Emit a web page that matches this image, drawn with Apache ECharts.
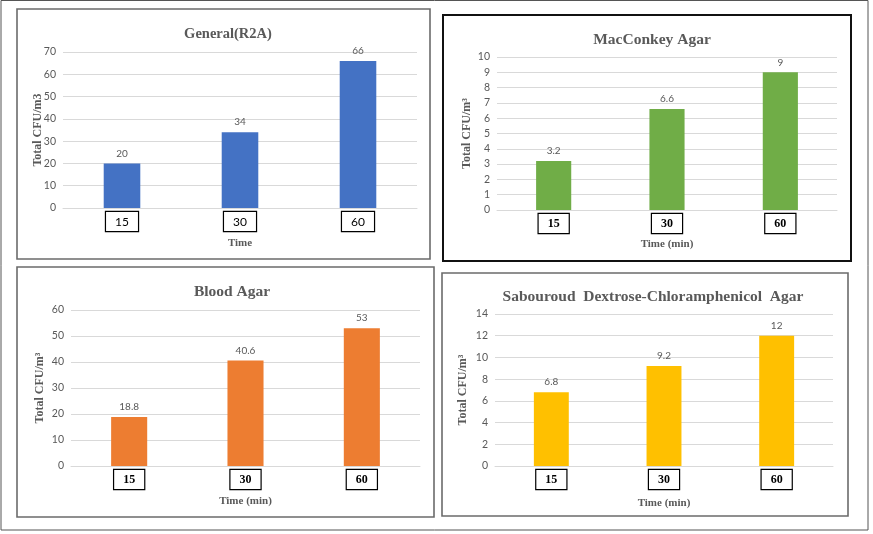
<!DOCTYPE html>
<html>
<head>
<meta charset="utf-8">
<script src="https://cdn.jsdelivr.net/npm/echarts@6/dist/echarts.min.js"></script>
<style>
html,body{margin:0;padding:0;background:#fff;}
#c{width:873px;height:534px;}
</style>
</head>
<body>
<div id="c"></div>
<script>
// ---- data ----
var timeCategories = ['15', '30', '60'];
var generalR2A = [20, 34, 66];
var macConkey = [3.2, 6.6, 9];
var bloodAgar = [18.8, 40.6, 53];
var sabouraud = [6.8, 9.2, 12];

var panelTitles = ['General(R2A)', 'MacConkey Agar', 'Blood Agar', 'Sabouroud  Dextrose-Chloramphenicol  Agar'];
var yAxisNames = ['Total CFU/m3', 'Total CFU/m\u00B3', 'Total CFU/m\u00B3', 'Total CFU/m\u00B3'];
var xAxisNames = ['Time', 'Time (min)', 'Time (min)', 'Time (min)'];
var yMax = [70, 10, 60, 14];
var yInterval = [10, 1, 10, 2];

// ---- layout / style ----
var seriesData = [generalR2A, macConkey, bloodAgar, sabouraud];
var colors = ['#4472C4', '#70AD47', '#ED7D31', '#FFC000'];
var grids = [
  {left: 63, right: 456, top: 52, bottom: 326},
  {left: 497, right: 36, top: 57, bottom: 324},
  {left: 71, right: 453, top: 310, bottom: 68},
  {left: 495, right: 40, top: 314, bottom: 68}
];
var titlePos = [[223, 22], [647, 27], [227, 279], [648, 284]];
var titleSize = [14.5, 15.5, 15.5, 15.5];
var yNameGap = [19, 24, 25, 26];
var xNameGap = [30, 29, 30, 32];
var serif = '"Liberation Serif", "Times New Roman", serif';
var sans = 'Lato, "Open Sans", sans-serif';
var gray = '#595959';

var option = {
  backgroundColor: '#fff',
  animation: false,
  title: panelTitles.map(function (t, i) {
    return {
      text: t, left: titlePos[i][0], top: titlePos[i][1], textAlign: 'center',
      textStyle: {fontFamily: serif, fontWeight: 'bold', fontSize: titleSize[i], color: gray}
    };
  }),
  grid: grids.map(function (g) { return Object.assign({containLabel: false}, g); }),
  xAxis: grids.map(function (g, i) {
    return {
      type: 'category', gridIndex: i, data: timeCategories,
      name: xAxisNames[i], nameLocation: 'middle', nameGap: xNameGap[i], nameMoveOverlap: false,
      nameTextStyle: {fontFamily: serif, fontWeight: 'bold', fontSize: 11, color: gray},
      axisLine: {lineStyle: {color: '#d9d9d9', width: 1}},
      axisTick: {show: false},
      axisLabel: {
        margin: 4, color: '#000',
        fontFamily: i === 0 ? sans : serif,
        fontWeight: i === 0 ? 'normal' : 'bold',
        fontSize: 12,
        borderColor: '#000', borderWidth: 1.2, padding: [4, 9, 3, 9],
        backgroundColor: '#fff'
      }
    };
  }),
  yAxis: grids.map(function (g, i) {
    return {
      type: 'value', gridIndex: i, min: 0, max: yMax[i], interval: yInterval[i],
      name: yAxisNames[i], nameLocation: 'middle', nameRotate: 90, nameGap: yNameGap[i], nameMoveOverlap: false,
      nameTextStyle: {fontFamily: serif, fontWeight: 'bold', fontSize: 12, color: gray},
      axisLine: {show: false}, axisTick: {show: false},
      axisLabel: {color: gray, fontFamily: sans, fontSize: 10.5, margin: 7},
      splitLine: {lineStyle: {color: '#d9d9d9', width: 1}}
    };
  }),
  series: seriesData.map(function (d, i) {
    return {
      type: 'bar', xAxisIndex: i, yAxisIndex: i, data: d, barWidth: '31%',
      itemStyle: {color: colors[i]},
      label: {show: true, position: 'top', distance: 5, color: gray, fontFamily: sans, fontSize: 10}
    };
  }),
  graphic: [
    {type: 'rect', shape: {x: 1, y: 0.5, width: 867, height: 529.5}, style: {fill: 'none', stroke: '#555', lineWidth: 1}},
    {type: 'rect', shape: {x: 17, y: 9, width: 413, height: 250}, style: {fill: 'none', stroke: '#6b6b6b', lineWidth: 1.6}},
    {type: 'rect', shape: {x: 443, y: 15, width: 408, height: 246}, style: {fill: 'none', stroke: '#111', lineWidth: 2}},
    {type: 'rect', shape: {x: 17, y: 267, width: 417, height: 250}, style: {fill: 'none', stroke: '#6b6b6b', lineWidth: 1.6}},
    {type: 'rect', shape: {x: 442, y: 273, width: 406, height: 243}, style: {fill: 'none', stroke: '#6b6b6b', lineWidth: 1.6}}
  ]
};

var chart = echarts.init(document.getElementById('c'));
chart.setOption(option);
</script>
</body>
</html>
